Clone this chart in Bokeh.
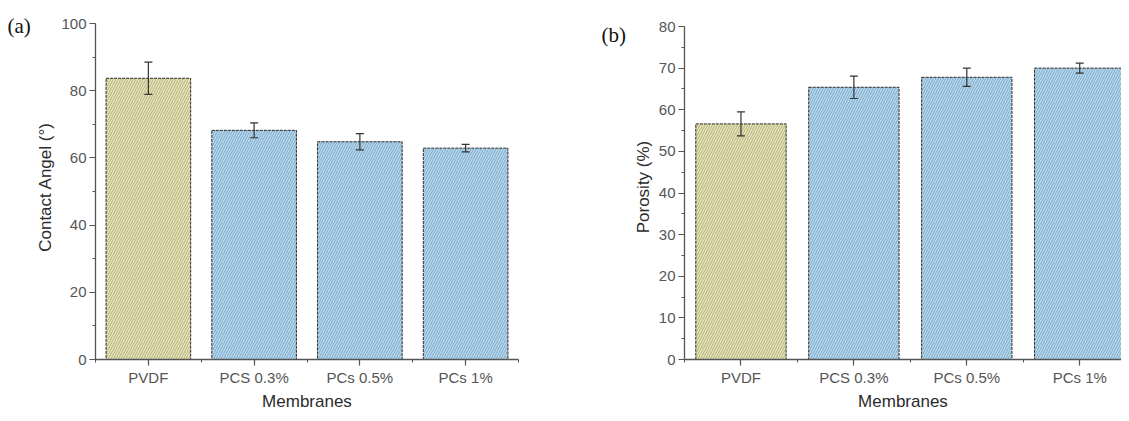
from bokeh.plotting import figure
from bokeh.models import (ColumnDataSource, Range1d, FixedTicker, Whisker, TeeHead)
from bokeh.core.properties import value
from bokeh.layouts import row
from bokeh.embed import file_html
from bokeh.resources import INLINE

categories = ["PVDF", "PCS 0.3%", "PCs 0.5%", "PCs 1%"]
contact_angle = [83.7, 68.2, 64.8, 62.9]
contact_err = [4.8, 2.2, 2.4, 1.1]
porosity = [56.6, 65.4, 67.8, 70.0]
porosity_err = [2.9, 2.7, 2.2, 1.2]
panel_tags = ["(a)", "(b)"]

fills = ["#e8e5b6", "#b6daf1", "#b6daf1", "#b6daf1"]
hatches = ["#7a774f", "#4a7192", "#4a7192", "#4a7192"]

AX = "#555555"
FONT = "Liberation Sans"
H = 413
FTOP = 14         # common frame top (px), frames are aligned in the row
BOTTOM = 359      # expected frame bottom (px)


def tag_fig(tag, width, tx, ty):
    p = figure(width=width, height=H, output_backend="svg", toolbar_location=None,
               x_range=Range1d(0, width), y_range=Range1d(0, BOTTOM - FTOP),
               x_axis_location=None, y_axis_location=None,
               min_border_left=0, min_border_right=0,
               min_border_top=FTOP, min_border_bottom=0)
    p.title = None
    p.grid.visible = False
    p.outline_line_color = None
    p.text(x=[tx], y=[BOTTOM - ty], text=[tag], text_font=value("Liberation Serif"),
           text_font_size="21px", text_color="#111111",
           text_baseline="alphabetic", text_align="left")
    return p


def panel(values, errs, ymax, ystep, ylabel, width, border_left, border_right,
          xend, axis_top_px):
    xs = list(range(1, len(categories) + 1))
    src = ColumnDataSource(dict(
        x=xs, top=values, upper=[v + e for v, e in zip(values, errs)],
        lower=[v - e for v, e in zip(values, errs)], fill=fills, hatch=hatches))
    # frame runs from FTOP; the axis itself stops at ymax (at axis_top_px)
    yext = ymax * (BOTTOM - FTOP) / (BOTTOM - axis_top_px)
    p = figure(width=width, height=H, output_backend="svg", toolbar_location=None,
               x_range=Range1d(0.5, xend), y_range=Range1d(0, yext),
               min_border_left=border_left, min_border_top=FTOP,
               min_border_right=border_right, min_border_bottom=0)
    p.title = None
    p.outline_line_color = None
    p.grid.visible = False
    p.vbar(x="x", top="top", width=0.8, source=src, fill_color="fill",
           line_color="#2a2a2a", line_width=1, line_dash="3 1",
           hatch_pattern="/", hatch_color="hatch", hatch_scale=5,
           hatch_weight=1.0, hatch_alpha=0.5)
    head = dict(size=8, line_color="#333333", line_width=1.2)
    w = Whisker(source=src, base="x", upper="upper", lower="lower",
                line_color="#333333", line_width=1.2, level="overlay",
                upper_head=TeeHead(**head), lower_head=TeeHead(**head))
    p.add_layout(w)

    p.xaxis.ticker = FixedTicker(ticks=xs, minor_ticks=[x - 0.5 for x in xs] + [xs[-1] + 0.5])
    p.xaxis.major_label_overrides = {x: c for x, c in zip(xs, categories)}
    p.yaxis.ticker = FixedTicker(ticks=list(range(0, ymax + 1, ystep)),
                                 minor_ticks=[v / 2 for v in range(0, 2 * ymax + 1, ystep)])
    p.yaxis.bounds = (0, ymax)
    for ax in (p.xaxis, p.yaxis):
        ax.axis_line_color = AX
        ax.axis_line_width = 1.3
        ax.major_tick_line_color = AX
        ax.minor_tick_line_color = AX
        ax.major_tick_line_width = 1.2
        ax.minor_tick_line_width = 1.0
        ax.major_tick_in = 0
        ax.major_tick_out = 6
        ax.minor_tick_in = 0
        ax.minor_tick_out = 3
        ax.major_label_text_font = FONT
        ax.major_label_text_font_size = "15px"
        ax.major_label_text_color = AX
        ax.axis_label_text_font = FONT
        ax.axis_label_text_font_style = "normal"
        ax.axis_label_text_font_size = "17px"
        ax.axis_label_text_color = "#2b2b2b"
    p.xaxis.axis_label = "Membranes"
    p.xaxis.major_label_standoff = 3
    p.xaxis.axis_label_standoff = 3
    p.yaxis.axis_label = ylabel
    p.yaxis.major_label_standoff = 3
    p.yaxis.axis_label_standoff = 3
    return p


ta = tag_fig(panel_tags[0], 33, 7, 25)
pa = panel(contact_angle, contact_err, 100, 20, "Contact Angel (°)",
           width=527, border_left=61, border_right=42, xend=4.5, axis_top_px=23)
tb = tag_fig(panel_tags[1], 70, 41, 34)
pb = panel(porosity, porosity_err, 80, 10, "Porosity (%)",
           width=491, border_left=50, border_right=0, xend=4.37, axis_top_px=26)

layout = row(ta, pa, tb, pb)
open("out.html", "w").write(file_html(layout, INLINE))
